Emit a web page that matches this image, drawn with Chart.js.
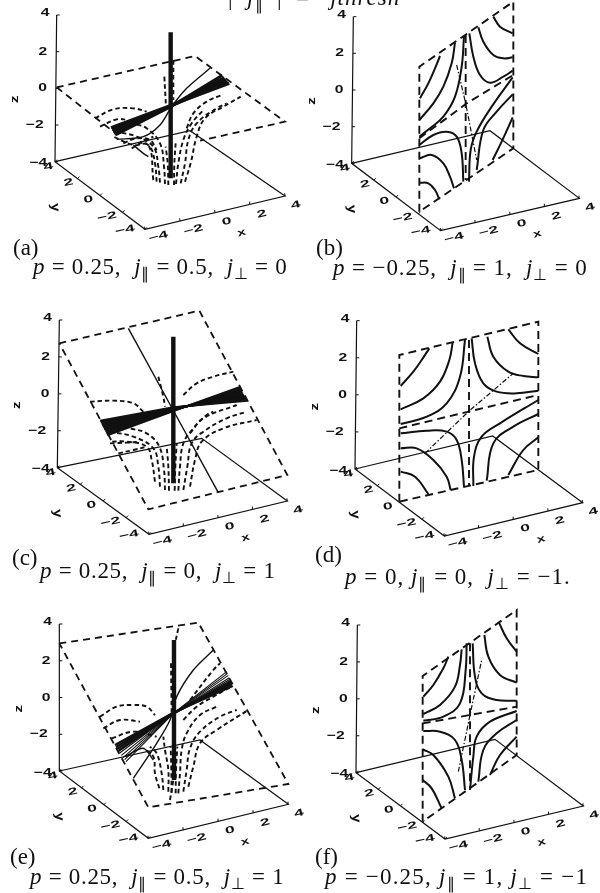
<!DOCTYPE html>
<html>
<head>
<meta charset="utf-8">
<style>
    html, body { margin: 0; padding: 0; background: #fff; }
    body { position: relative; width: 600px; height: 893px; overflow: hidden; }
    canvas { position: absolute; }
    .cap { position: absolute; font-family: "Liberation Serif", serif; color: #111; white-space: pre; line-height: 24px; font-size: 23px; letter-spacing: 1px; }
    .cap sub { font-size: 0.68em; line-height: 0; vertical-align: -0.3em; }
    .tag { position: absolute; font-family: "Liberation Serif", serif; color: #111; font-size: 23px; line-height: 24px; }
</style>
<script src="https://cdn.jsdelivr.net/npm/chart.js@4"></script>
</head>
<body>
<script>

const tickValues = [-4, -2, 0, 2, 4];
const zTickLabels = ['−4', '−2', '0', '2', '4'];
const yTickLabels = ['−4', '−2', '0', '2', '4'];
const xTickLabels = ['−4', '−2', '0', '2', '4'];

// corners of the box: z top, origin, front, right, back
const frameA = [170, 45, 165, 485, 435, 688, 855, 588, 570, 392];
const frameB = [160, 50, 155, 490, 422, 692, 838, 595, 570, 392];
const frameC = [178, 60, 172, 503, 447, 703, 862, 603, 605, 415];
const frameD = [170, 62, 165, 507, 433, 708, 848, 608, 578, 408];
const frameE = [178, 72, 178, 513, 445, 715, 865, 613, 600, 420];
const frameF = [172, 75, 168, 518, 435, 717, 850, 618, 585, 418];

const planeA = [[170, 262, 585, 168, 855, 365, 600, 422], [170, 262, 340, 395]];
const planeB = [[358, 635, 358, 200, 640, 5, 640, 445, 358, 635]];
const planeC = [[178, 130, 598, 32, 862, 525, 445, 628, 178, 130]];
const planeD = [[298, 605, 298, 165, 715, 65, 715, 510, 298, 605]];
const planeE = [[178, 130, 595, 68, 865, 552, 445, 622, 178, 130]];
const planeF = [[368, 665, 368, 228, 650, 30, 650, 465, 368, 665]];

const spineA = [512, 97, 512, 535];
const spineC = [520, 110, 520, 550];
const spineE = [522, 120, 522, 540];

const bandA = [
    [333, 383, 512, 316, 688, 250], [336, 389, 512, 318, 683, 245], [339, 395, 512, 318, 678, 239],
    [342, 400, 512, 318, 673, 233], [346, 405, 512, 320, 667, 226]
];
const bandC = [
    [300, 362, 520, 322, 742, 302], [302, 366, 520, 323, 740, 298], [304, 370, 520, 324, 738, 294],
    [306, 374, 520, 325, 736, 291], [308, 378, 520, 326, 734, 288], [310, 382, 520, 327, 732, 285],
    [312, 386, 520, 328, 730, 281], [314, 390, 520, 329, 728, 277], [316, 394, 520, 330, 726, 273],
    [318, 398, 520, 331, 724, 269], [320, 402, 520, 332, 722, 265], [322, 406, 520, 333, 720, 261]
];
const bandHeavyE = [
    [345, 435, 520, 338, 698, 258], [348, 441, 520, 339, 696, 253], [351, 447, 520, 340, 694, 248],
    [355, 453, 520, 341, 692, 243]
];
const bandLightE = [
    [359, 459, 520, 340, 690, 238], [364, 466, 520, 340, 688, 233], [369, 473, 520, 340, 685, 226],
    [374, 479, 520, 340, 683, 220], [378, 485, 520, 340, 680, 215]
];

const thinA = [[630, 205, 560, 265, 515, 320, 480, 375, 430, 410, 350, 418], [400, 435, 430, 460, 445, 470]];
const thinC = [[385, 85, 655, 578]];
const thinE = [[640, 150, 580, 210, 530, 290, 510, 360, 470, 430, 400, 535], [375, 470, 430, 445, 460, 480]];

const funnelA = [
    [460, 540, 445, 435, 400, 435, 340, 410],
    [470, 545, 465, 490, 450, 440, 420, 425],
    [480, 548, 475, 500, 460, 440, 410, 410, 350, 395],
    [495, 552, 492, 500, 480, 430, 440, 385, 400, 370],
    [505, 555, 503, 490, 497, 440],
    [522, 555, 523, 490, 527, 430],
    [528, 552, 535, 490, 550, 420, 575, 370, 610, 330],
    [542, 550, 555, 490, 565, 420, 590, 370, 650, 325, 680, 310],
    [555, 545, 572, 490, 590, 410, 615, 355, 670, 320, 722, 290],
    [560, 385, 580, 340, 620, 305, 665, 285],
    [370, 430, 410, 415, 450, 420, 470, 450],
    [395, 445, 430, 425, 460, 410],
    [493, 230, 498, 320],
    [520, 180, 520, 300],
    [285, 355, 340, 328, 400, 325, 440, 335],
    [300, 380, 350, 358, 385, 360]
];
const funnelC = [
    [465, 545, 455, 480, 440, 440, 380, 425, 330, 425],
    [480, 560, 475, 500, 460, 445, 400, 410, 330, 395],
    [495, 570, 492, 510, 478, 440, 440, 400, 390, 385],
    [507, 572, 505, 500, 500, 440],
    [524, 572, 526, 500, 530, 430],
    [535, 572, 540, 500, 550, 430, 580, 385, 620, 345, 640, 335],
    [550, 570, 562, 500, 575, 430, 610, 395, 680, 355, 740, 335],
    [570, 560, 585, 480, 605, 425, 670, 385, 770, 360],
    [570, 400, 610, 355, 710, 315],
    [330, 430, 380, 428, 420, 425],
    [355, 460, 400, 450, 440, 440],
    [270, 305, 340, 302, 400, 310, 430, 335],
    [550, 285, 590, 250, 640, 230, 700, 215],
    [475, 230, 490, 290, 495, 320]
];
const funnelE = [
    [478, 565, 465, 520, 460, 470, 430, 445],
    [490, 570, 485, 520, 470, 460, 450, 440],
    [505, 575, 505, 510, 495, 450, 490, 410],
    [515, 578, 514, 510, 512, 440],
    [527, 580, 528, 510, 532, 440],
    [535, 580, 540, 520, 545, 450, 560, 400, 600, 345, 650, 320],
    [550, 575, 560, 510, 570, 445, 600, 395, 660, 350, 710, 330],
    [565, 560, 580, 500, 600, 430, 650, 390, 745, 330],
    [550, 360, 590, 320, 640, 290, 690, 262],
    [300, 350, 350, 320, 400, 315, 440, 320, 465, 345],
    [310, 385, 360, 360, 420, 365],
    [335, 415, 400, 395, 470, 410],
    [570, 300, 640, 210, 660, 190],
    [513, 190, 515, 340],
    [510, 600, 520, 540],
    [535, 85, 525, 130]
];

const midB = [358, 415, 500, 310, 640, 225];
const midD = [298, 385, 505, 335, 715, 285];
const midF = [368, 370, 510, 345, 650, 320];
const stemB = [497, 105, 497, 540];
const stemD = [507, 120, 507, 555];
const stemF = [510, 130, 510, 565];
const dashDotB = [470, 195, 497, 310, 530, 480];
const dashDotD = [375, 460, 505, 335, 640, 220];
const dashDotF = [475, 515, 510, 345, 545, 180];

const curvesB = [
    [360, 295, 385, 250, 405, 205, 420, 168],
    [358, 360, 400, 310, 430, 260, 455, 190, 465, 128],
    [358, 410, 390, 385, 430, 350, 465, 290, 485, 200, 492, 108],
    [508, 100, 520, 170, 540, 225, 570, 248, 610, 230, 638, 212],
    [535, 82, 550, 125, 580, 165, 610, 175, 638, 172],
    [580, 50, 600, 80, 638, 100],
    [358, 435, 400, 405, 440, 395, 470, 410, 485, 460, 490, 545],
    [358, 475, 395, 465, 430, 490, 450, 530, 462, 565],
    [358, 548, 385, 550, 405, 570, 418, 598],
    [507, 545, 512, 450, 530, 395, 575, 320, 638, 232],
    [530, 510, 550, 390, 590, 335, 638, 283],
    [578, 480, 605, 425, 638, 352]
];
const curvesD = [
    [302, 258, 340, 215, 365, 180, 388, 145],
    [302, 328, 370, 295, 420, 245, 448, 180, 458, 128],
    [302, 372, 380, 350, 440, 310, 480, 230, 495, 120],
    [302, 400, 380, 392, 440, 395, 470, 420, 485, 480, 492, 560],
    [302, 445, 350, 445, 400, 480, 440, 530, 452, 570],
    [302, 515, 345, 530, 385, 582],
    [515, 115, 525, 190, 550, 250, 590, 275, 650, 280, 715, 272],
    [562, 110, 580, 170, 625, 215, 670, 228, 715, 232],
    [625, 88, 660, 130, 715, 162],
    [520, 558, 522, 470, 545, 410, 600, 370, 715, 300],
    [560, 542, 580, 430, 640, 380, 715, 342],
    [625, 525, 670, 450, 715, 412]
];
const curvesF = [
    [370, 290, 400, 255, 430, 205, 445, 170],
    [370, 342, 420, 315, 465, 260, 480, 195, 485, 148],
    [370, 362, 430, 350, 480, 310, 497, 210, 500, 130],
    [370, 393, 420, 395, 465, 420, 485, 480, 495, 570],
    [368, 448, 400, 465, 445, 530, 465, 595],
    [368, 540, 395, 565, 425, 625],
    [518, 130, 525, 230, 545, 280, 590, 300, 650, 302],
    [553, 105, 565, 170, 600, 225, 650, 248],
    [597, 68, 620, 115, 650, 155],
    [510, 570, 520, 470, 530, 410, 570, 365, 650, 333],
    [535, 545, 550, 450, 590, 400, 650, 360],
    [570, 525, 600, 465, 650, 410]
];

const panelTags = ['(a)', '(b)', '(c)', '(d)', '(e)', '(f)'];
const panelCaptions = [
    '<i>p</i> = 0.25,  <i>j</i><sub>∥</sub> = 0.5,  <i>j</i><sub>⊥</sub> = 0',
    '<i>p</i> = −0.25,  <i>j</i><sub>∥</sub> = 1,  <i>j</i><sub>⊥</sub> = 0',
    '<i>p</i> = 0.25,  <i>j</i><sub>∥</sub> = 0,  <i>j</i><sub>⊥</sub> = 1',
    '<i>p</i> = 0, <i>j</i><sub>∥</sub> = 0,  <i>j</i><sub>⊥</sub> = −1.',
    '<i>p</i> = 0.25,  <i>j</i><sub>∥</sub> = 0.5,  <i>j</i><sub>⊥</sub> = 1',
    '<i>p</i> = −0.25, <i>j</i><sub>∥</sub> = 1, <i>j</i><sub>⊥</sub> = −1'
];

const INK = '#111';
const zLabelOffsets = [[-50, 5], [-62, 0], [-40, 0], [-40, 0], [-35, -5]];
const yLabelOffsets = [[-60, 2], [-47, 13], [-35, 12], [-27, 12], [-20, 15]];
const xLabelOffsets = [[40, 22], [40, 27], [35, 27], [35, 29], [32, 27]];

function toPoints(flat) {
    var points = [];
    for (let i = 0; i < flat.length; i += 2) {
        points.push({ x: flat[i], y: flat[i + 1] });
    }
    return points;
}

function lineSet(flat, width, dash, tension) {
    return {
        data: toPoints(flat),
        showLine: true,
        borderColor: INK,
        borderWidth: width,
        borderDash: dash || [],
        tension: tension || 0,
        pointRadius: 0,
        fill: false,
        clip: false
    };
}

function frameSets(frame) {
    const top = [frame[0], frame[1]], origin = [frame[2], frame[3]], front = [frame[4], frame[5]];
    const right = [frame[6], frame[7]], back = [frame[8], frame[9]];
    var sets = [
        lineSet(top.concat(origin, front, right, back, origin), 1.2)
    ];
    tickValues.forEach(function (value) {
        const t = (value + 4) / 8;
        const zx = origin[0] + (top[0] - origin[0]) * t, zy = origin[1] + (top[1] - origin[1]) * t;
        const yx = front[0] + (origin[0] - front[0]) * t, yy = front[1] + (origin[1] - front[1]) * t;
        const xx = front[0] + (right[0] - front[0]) * t, xy = front[1] + (right[1] - front[1]) * t;
        sets.push(lineSet([zx, zy, zx + 9, zy], 1));
        sets.push(lineSet([yx, yy, yx + 6, yy - 6], 1));
        sets.push(lineSet([xx, xy, xx - 1, xy - 8], 1));
    });
    return sets;
}

// draws the axis numbers through the chart scales
const tickTextPlugin = {
    id: 'tickText',
    afterDatasetsDraw: function (chart) {
        const frame = chart.options.plugins.tickText.frame;
        const ctx = chart.ctx;
        const sx = chart.scales.x, sy = chart.scales.y;

        function put(text, x, y, angle, stretch, squash) {
            ctx.save();
            ctx.translate(sx.getPixelForValue(x), sy.getPixelForValue(y));
            ctx.rotate(angle * Math.PI / 180);
            ctx.scale(stretch, squash);
            ctx.font = 'bold 12.5px "Liberation Sans"';
            ctx.fillStyle = INK;
            ctx.textAlign = 'center';
            ctx.textBaseline = 'middle';
            ctx.fillText(text, 0, 0);
            ctx.restore();
        }

        tickValues.forEach(function (value, i) {
            const t = (value + 4) / 8;
            const zx = frame[2] + (frame[0] - frame[2]) * t, zy = frame[3] + (frame[1] - frame[3]) * t;
            const yx = frame[4] + (frame[2] - frame[4]) * t, yy = frame[5] + (frame[3] - frame[5]) * t;
            const xx = frame[4] + (frame[6] - frame[4]) * t, xy = frame[5] + (frame[7] - frame[5]) * t;
            put(zTickLabels[i], zx + zLabelOffsets[i][0], zy + zLabelOffsets[i][1], 0, 1.25, 0.9);
            put(yTickLabels[i], yx + yLabelOffsets[i][0], yy + yLabelOffsets[i][1], -12, 1.4, 0.8);
            put(xTickLabels[i], xx + xLabelOffsets[i][0], xy + xLabelOffsets[i][1], -15, 1.4, 0.8);
        });
        put('z', frame[2] - 120, frame[3] - 187, -90, 1.2, 0.9);
        put('y', frame[2], frame[3] + 137, 85, 1.2, 1);
        put('x', frame[4] + 290, frame[5] + 10, -15, 1.2, 0.8);
    }
};

function drawPanel(canvasId, left, top, width, height, frame, datasets) {
    const canvas = document.createElement('canvas');
    canvas.id = canvasId;
    canvas.width = width;
    canvas.height = height;
    canvas.style.left = left + 'px';
    canvas.style.top = top + 'px';
    document.body.appendChild(canvas);

    return new Chart(canvas, {
        type: 'scatter',
        data: { datasets: frameSets(frame).concat(datasets) },
        plugins: [tickTextPlugin],
        options: {
            responsive: false,
            animation: false,
            events: [],
            layout: { padding: 0 },
            scales: {
                x: { type: 'linear', display: false, min: 0, max: width * 3 },
                y: { type: 'linear', display: false, min: 0, max: height * 3, reverse: true }
            },
            plugins: {
                legend: { display: false },
                title: { display: false },
                tooltip: { enabled: false },
                tickText: { frame: frame }
            }
        }
    });
}

function funnelPanelSets(plane, spine, bands, thin, funnel) {
    var sets = [];
    plane.forEach(function (edge) { sets.push(lineSet(edge, 1.8, [7, 5])); });
    funnel.forEach(function (curve) { sets.push(lineSet(curve, 1.9, [4.5, 3], 0.4)); });
    thin.forEach(function (curve) { sets.push(lineSet(curve, 1.4, [], 0.3)); });
    bands.forEach(function (band) {
        band.lines.forEach(function (line) { sets.push(lineSet(line, band.width)); });
    });
    sets.push(lineSet(spine, 4.4));
    return sets;
}

function planePanelSets(plane, mid, stem, dashDot, curves) {
    var sets = [];
    plane.forEach(function (edge) { sets.push(lineSet(edge, 1.9, [8, 5])); });
    sets.push(lineSet(mid, 1.9, [8, 5]));
    sets.push(lineSet(stem, 1.9, [8, 5]));
    sets.push(lineSet(dashDot, 1.2, [5, 2, 1.5, 2]));
    curves.forEach(function (curve) { sets.push(lineSet(curve, 2, [], 0.4)); });
    return sets;
}

drawPanel('panelA', 0, 0, 310, 300, frameA, funnelPanelSets(planeA, spineA, [{ lines: bandA, width: 3 }], thinA, funnelA));
drawPanel('panelB', 300, 0, 300, 300, frameB, planePanelSets(planeB, midB, stemB, dashDotB, curvesB));
drawPanel('panelC', 0, 300, 310, 300, frameC, funnelPanelSets(planeC, spineC, [{ lines: bandC, width: 2 }], thinC, funnelC));
drawPanel('panelD', 300, 300, 300, 300, frameD, planePanelSets(planeD, midD, stemD, dashDotD, curvesD));
drawPanel('panelE', 0, 600, 310, 293, frameE, funnelPanelSets(planeE, spineE, [{ lines: bandHeavyE, width: 2.3 }, { lines: bandLightE, width: 1.1 }], thinE, funnelE));
drawPanel('panelF', 300, 600, 300, 293, frameF, planePanelSets(planeF, midF, stemF, dashDotF, curvesF));

// tag and caption text, left/top in page pixels
const tagLeft = [13, 316, 12, 315, 10, 315];
const tagTop = [236, 236, 546, 543, 845, 845];
const captionLeft = [33, 333, 40, 345, 30, 325];
const captionTop = [255, 256, 559, 565, 865, 865];
const captionSpacing = [0.7, 0.9, 0.7, 1, 0.7, 1.2];

panelTags.forEach(function (tag, i) {
    const el = document.createElement('div');
    el.className = 'tag';
    el.textContent = tag;
    el.style.left = tagLeft[i] + 'px';
    el.style.top = tagTop[i] + 'px';
    document.body.appendChild(el);
});

panelCaptions.forEach(function (caption, i) {
    const el = document.createElement('div');
    el.className = 'cap';
    el.innerHTML = caption;
    el.style.left = captionLeft[i] + 'px';
    el.style.top = captionTop[i] + 'px';
    el.style.letterSpacing = captionSpacing[i] + 'px';
    document.body.appendChild(el);
});

// heading cut off by the page edge, only its lower part shows
const headingLeft = [228, 296];
const headingText = [
    '|  <i>j</i><sub>∥</sub>  |',
    '=   <i>jthresh</i>'
];
headingText.forEach(function (text, i) {
    const el = document.createElement('div');
    el.className = 'cap';
    el.innerHTML = text;
    el.style.left = headingLeft[i] + 'px';
    el.style.top = '-14px';
    document.body.appendChild(el);
});
</script>
</body>
</html>
